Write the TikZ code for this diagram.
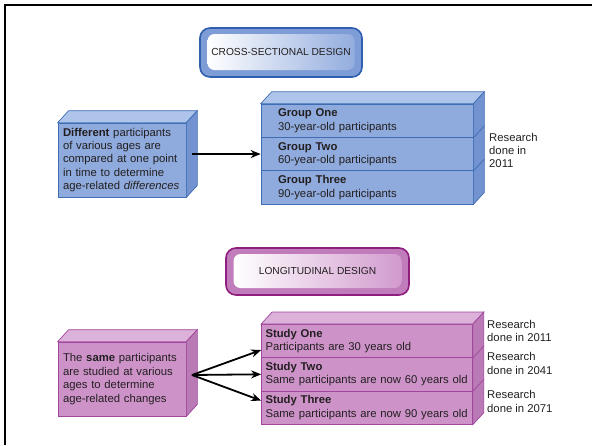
\documentclass[tikz,border=0pt]{standalone}
\usepackage{fontspec}
\setmainfont{Liberation Sans}
\usetikzlibrary{arrows.meta}

\definecolor{ink}{HTML}{231F20}
\definecolor{bluefront}{HTML}{8FAADC}
\definecolor{bluetop}{HTML}{AFC4EA}
\definecolor{blueside}{HTML}{7293D0}
\definecolor{blueedge}{HTML}{3E6DB5}
\definecolor{bluerim}{HTML}{2F5FAE}
\definecolor{bluemid}{HTML}{7E9DD6}
\definecolor{bluelight}{HTML}{93ADDE}
\definecolor{pinkfront}{HTML}{CD93C9}
\definecolor{pinktop}{HTML}{DDB2DA}
\definecolor{pinkside}{HTML}{B97AB5}
\definecolor{pinkedge}{HTML}{A0469C}
\definecolor{pinkrim}{HTML}{8E1F7E}
\definecolor{pinkmid}{HTML}{C07CBB}
\definecolor{pinklight}{HTML}{D29ACE}

\begin{document}
\begin{tikzpicture}[x=1pt, y=-1pt,
  every node/.style={text=ink, font=\fontsize{11.3}{13.4}\selectfont},
  bluebox/.style={draw=blueedge, fill=bluefront, line width=0.7pt},
  pinkbox/.style={draw=pinkedge, fill=pinkfront, line width=0.7pt},
  info/.style={text width=118pt, inner xsep=5pt, minimum height=74pt, align=left},
  grouprow/.style={bluebox, text width=178pt, inner xsep=17pt, minimum height=33.3pt, align=left},
  studyrow/.style={pinkbox, text width=203pt, inner xsep=4pt, minimum height=33.3pt, align=left},
  rim/.style={line width=1.6pt, rounded corners=10pt},
  titlein/.style={rounded corners=7pt, left color=white, font=\fontsize{10.2}{12}\selectfont},
  note/.style={anchor=west, inner sep=0pt, align=left},
  link/.style={-{Stealth[length=10pt,width=8pt]}, line width=1.8pt, black}]

\useasboundingbox (0,0) rectangle (592,445);
\draw[line width=2.5pt] (5,445) -- (5,5) -- (592,5);

\node (crossRim) at (281,52.5) [rim, draw=bluerim, fill=bluemid, minimum width=162pt, minimum height=49pt] {};
\node (cross) at (281,52) [titlein, right color=bluelight, minimum width=147pt, minimum height=36pt] {CROSS-SECTIONAL DESIGN};

\node (crossInfo) at (122,160) [bluebox, info] {\textbf{Different} participants\\of various ages are\\compared at one point\\in time to determine\\age-related \textit{differences}};
\draw[bluebox, fill=bluetop] (crossInfo.north west) -- ++(11,-12) -- ([shift={(11,-12)}]crossInfo.north east) -- (crossInfo.north east) -- cycle;
\draw[bluebox, fill=blueside] (crossInfo.north east) -- ++(11,-12) -- ([shift={(11,-12)}]crossInfo.south east) -- (crossInfo.south east) -- cycle;

\node (g1) at (367,120.8) [grouprow] {\textbf{Group One}\\30-year-old participants};
\node (g2) at (367,154.1) [grouprow] {\textbf{Group Two}\\60-year-old participants};
\node (g3) at (367,187.4) [grouprow] {\textbf{Group Three}\\90-year-old participants};
\draw[bluebox, fill=bluetop] (g1.north west) -- ++(11,-12) -- ([shift={(11,-12)}]g1.north east) -- (g1.north east) -- cycle;
\draw[bluebox, fill=blueside] (g1.north east) -- ++(11,-12) -- ([shift={(11,-12)}]g3.south east) -- (g3.south east) -- cycle;
\draw[bluebox] (g1.south east) -- ++(11,-12);
\draw[bluebox] (g2.south east) -- ++(11,-12);

\node (r0) at (489,150.5) [note] {Research\\done in\\2011};

\coordinate (crossOut) at (192,154);
\draw[link] (crossOut) -- (g2);

\node (longRim) at (317.5,271.5) [rim, draw=pinkrim, fill=pinkmid, minimum width=183pt, minimum height=47pt] {};
\node (longi) at (317.5,271) [titlein, right color=pinklight, minimum width=168pt, minimum height=34pt] {LONGITUDINAL DESIGN};

\node (longInfo) at (122,379) [pinkbox, info] {The \textbf{same} participants\\are studied at various\\ages to determine\\age-related changes};
\draw[pinkbox, fill=pinktop] (longInfo.north west) -- ++(11,-12) -- ([shift={(11,-12)}]longInfo.north east) -- (longInfo.north east) -- cycle;
\draw[pinkbox, fill=pinkside] (longInfo.north east) -- ++(11,-12) -- ([shift={(11,-12)}]longInfo.south east) -- (longInfo.south east) -- cycle;

\node (s1) at (367,341) [studyrow] {\textbf{Study One}\\Participants are 30 years old};
\node (s2) at (367,374.3) [studyrow] {\textbf{Study Two}\\Same participants are now 60 years old};
\node (s3) at (367,407.6) [studyrow] {\textbf{Study Three}\\Same participants are now 90 years old};
\draw[pinkbox, fill=pinktop] (s1.north west) -- ++(11,-12) -- ([shift={(11,-12)}]s1.north east) -- (s1.north east) -- cycle;
\draw[pinkbox, fill=pinkside] (s1.north east) -- ++(11,-12) -- ([shift={(11,-12)}]s3.south east) -- (s3.south east) -- cycle;
\draw[pinkbox] (s1.south east) -- ++(11,-12);
\draw[pinkbox] (s2.south east) -- ++(11,-12);

\node (r1) at (487,331) [note] {Research\\done in 2011};
\node (r2) at (487,363.5) [note] {Research\\done in 2041};
\node (r3) at (487,401.5) [note] {Research\\done in 2071};

\coordinate (fan) at (192,375);
\draw[link] (fan) -- ([yshift=-9pt]s1.west);
\draw[link] (fan) -- (s2.west);
\draw[link] (fan) -- ([yshift=7pt]s3.west);

\end{tikzpicture}
\end{document}
